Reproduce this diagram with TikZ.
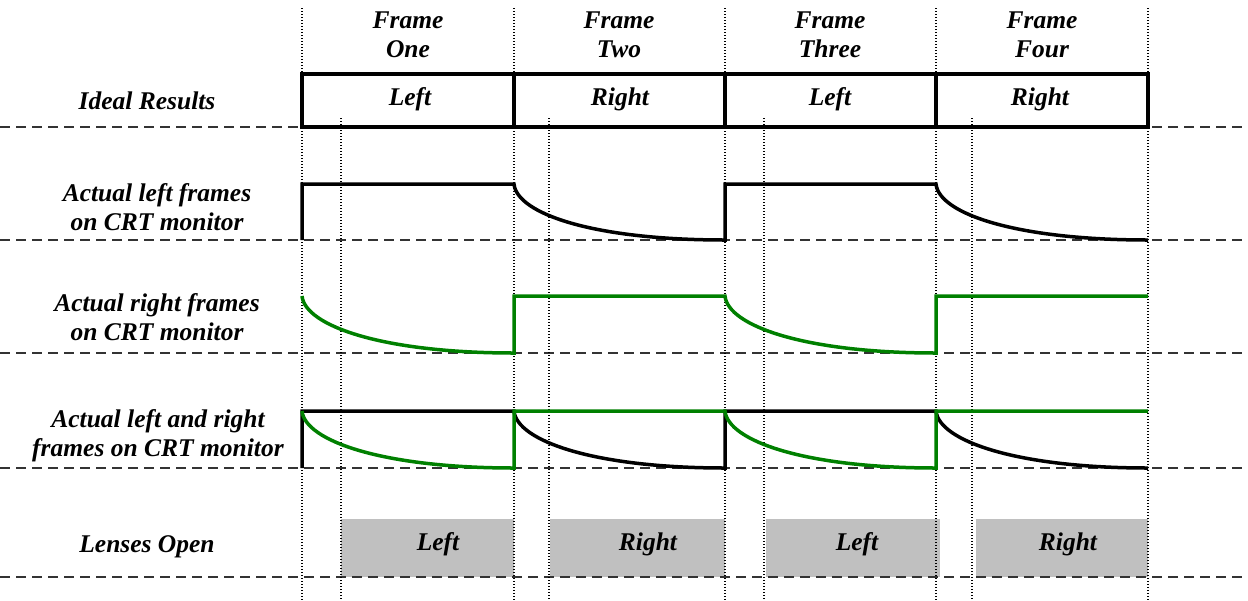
\documentclass[tikz,border=0pt]{standalone}
\usepackage{fontspec}
\setmainfont{Liberation Serif}
\begin{document}
\definecolor{wgreen}{RGB}{0,128,0}
\definecolor{lensgrey}{RGB}{192,192,192}
\begin{tikzpicture}[x=1pt,y=-1pt,
  lbl/.style={font=\fontsize{25.5}{29}\selectfont\bfseries\itshape, align=center, inner sep=0pt},
  gridline/.style={dash pattern=on 10pt off 6pt, line width=1.3pt, draw=black!80},
  vdot/.style={dash pattern=on 1.3pt off 1.7pt, line width=1.3pt, draw=black},
  wave/.style={line width=3.5pt, line join=miter, line cap=butt},
  gwave/.style={wave, draw=wgreen},
  lens/.style={fill=lensgrey, draw=none}]
\useasboundingbox (0,0) rectangle (1248,600);

% lens boxes
\fill[lens] (341,519) rectangle (514,577);
\fill[lens] (550,519) rectangle (725,577);
\fill[lens] (766,519) rectangle (940,577);
\fill[lens] (976,519) rectangle (1148,577);

% horizontal dashed lines
\foreach \y in {127,240,353,468,577}
  \draw[gridline] (0,\y) -- (1248,\y);

% vertical dotted lines
\foreach \x in {302,514,725,936,1148}
  \draw[vdot] (\x,8) -- (\x,600);
\foreach \x in {341,549,764,972}
  \draw[vdot] (\x,118) -- (\x,600);

% ideal results boxes
\draw[line width=3.5pt] (302,74) rectangle (1148,127);
\draw[line width=3.5pt] (514,74) -- (514,127);
\draw[line width=3.5pt] (725,74) -- (725,127);
\draw[line width=3.5pt] (936,74) -- (936,127);

% row 1: actual left frames
\draw[wave] (302,240) -- (302,184) -- (514,184)
  .. controls +(3,30) and +(-131,0) .. (725,240) -- (725,184) -- (936,184)
  .. controls +(3,30) and +(-131,0) .. (1148,240);

% row 2: actual right frames
\draw[gwave] (302,296) .. controls +(3,30) and +(-131,0) .. (514,353)
  -- (514,296) -- (725,296)
  .. controls +(3,30) and +(-131,0) .. (936,353) -- (936,296) -- (1148,296);

% row 3: both
\draw[wave] (302,468) -- (302,411) -- (514,411)
  .. controls +(3,30) and +(-131,0) .. (725,468) -- (725,411) -- (936,411)
  .. controls +(3,30) and +(-131,0) .. (1148,468);
\draw[gwave] (302,411) .. controls +(3,30) and +(-131,0) .. (514,468)
  -- (514,411) -- (725,411)
  .. controls +(3,30) and +(-131,0) .. (936,468) -- (936,411) -- (1148,411);

% frame headings
\node[lbl] (f1) at (408,35) {Frame\\One};
\node[lbl] (f2) at (619,35) {Frame\\Two};
\node[lbl] (f3) at (830,35) {Frame\\Three};
\node[lbl] (f4) at (1042,35) {Frame\\Four};

% ideal texts
\node[lbl] (i1) at (410,99) {Left};
\node[lbl] (i2) at (620,99) {Right};
\node[lbl] (i3) at (830,99) {Left};
\node[lbl] (i4) at (1040,99) {Right};

% lens texts
\node[lbl] (l1) at (438,544) {Left};
\node[lbl] (l2) at (648,544) {Right};
\node[lbl] (l3) at (857,544) {Left};
\node[lbl] (l4) at (1068,544) {Right};

% row labels
\node[lbl] (r0) at (147,101) {Ideal Results};
\node[lbl] (r1) at (157,207) {Actual left frames\\on CRT monitor};
\node[lbl] (r2) at (157,317) {Actual right frames\\on CRT monitor};
\node[lbl] (r3) at (158,436) {Actual left and right\\frames on CRT monitor};
\node[lbl] (r4) at (147,547) {Lenses Open};
\end{tikzpicture}
\end{document}
